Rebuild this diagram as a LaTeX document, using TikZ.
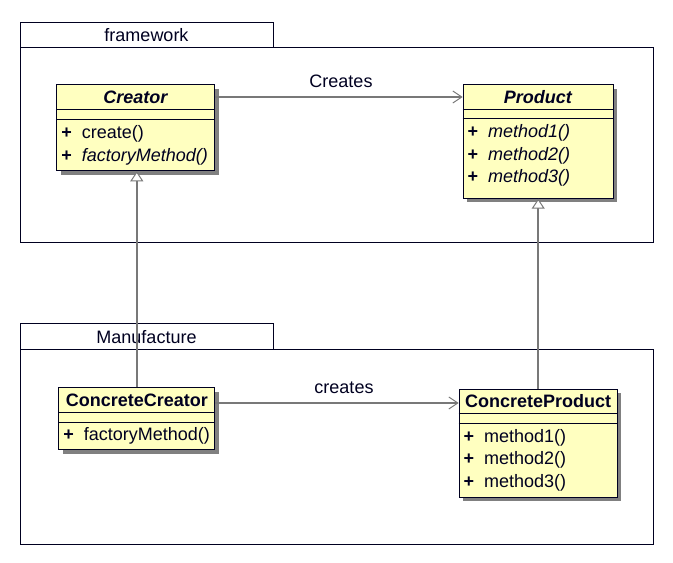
\documentclass[tikz,border=0pt]{standalone}
\usepackage{fontspec}
\setmainfont{Liberation Sans}
\usetikzlibrary{positioning,calc,shadows,arrows.meta}

\definecolor{umlNavy}{RGB}{0,0,32}
\definecolor{umlYellow}{RGB}{255,255,192}
\definecolor{umlShadow}{RGB}{128,128,128}
\definecolor{umlGray}{RGB}{120,120,120}
\newcommand{\umlPlus}{\makebox[20.5pt][l]{\textbf{+}}}

\begin{document}
\begin{tikzpicture}[x=1pt,y=-1pt]
\tikzset{myFont/.style={font=\fontsize{18}{21}\selectfont,text=umlNavy}}
\tikzset{myTitle/.style={font=\fontsize{18}{21}\selectfont\bfseries,text=umlNavy}}
\tikzset{myPkg/.style={draw=umlNavy,line width=1pt,inner sep=0pt,anchor=north west,myFont}}
\tikzset{myClass/.style={draw=umlNavy,fill=umlYellow,line width=1pt,inner sep=0pt,anchor=north west,
  drop shadow={shadow xshift=4pt,shadow yshift=-4pt,opacity=1,fill=umlShadow}}}
\tikzset{myLine/.style={draw=umlNavy,line width=1pt}}
\tikzset{myOp/.style={myFont,anchor=base west,inner sep=0pt}}
\tikzset{myAssoc/.style={draw=umlGray,line width=1.5pt,-{Straight Barb[length=9pt,width=12pt,line width=1pt]}}}
\tikzset{myInherit/.style={draw=umlGray,line width=1.5pt,-{Triangle[open,length=10pt,width=13pt,line width=1pt,fill=white]}}}

\useasboundingbox (0,0) rectangle (673,563);

% packages
\node[myPkg,minimum width=253pt,minimum height=25.6pt] (fwTab) at (19.5,21.7) {framework};
\node[myPkg,minimum width=633pt,minimum height=195pt] (fwBody) at (19.5,47.3) {};
\node[myPkg,minimum width=253pt,minimum height=26pt] (mfTab) at (19.5,323.3) {Manufacture};
\node[myPkg,minimum width=633pt,minimum height=195pt] (mfBody) at (19.5,349.3) {};

% Creator
\node[myClass,minimum width=158pt,minimum height=86pt] (creator) at (56.3,84.3) {};
\node[myTitle] (creatorName) at ($(creator.north)+(0,12.7)$) {\textit{Creator}};
\draw[myLine] ($(creator.north west)+(0,25)$) -- ($(creator.north east)+(0,25)$);
\draw[myLine] ($(creator.north west)+(0,35)$) -- ($(creator.north east)+(0,35)$);
\node[myOp] (creatorOp1) at ($(creator.north west)+(4.8,53.7)$) {\umlPlus create()};
\node[myOp] (creatorOp2) at ($(creator.north west)+(4.8,76.7)$) {\umlPlus\textit{factoryMethod()}};

% Product
\node[myClass,minimum width=150pt,minimum height=113.7pt] (product) at (462.7,84) {};
\node[myTitle] (productName) at ($(product.north)+(0,12.7)$) {\textit{Product}};
\draw[myLine] ($(product.north west)+(0,25)$) -- ($(product.north east)+(0,25)$);
\draw[myLine] ($(product.north west)+(0,34.5)$) -- ($(product.north east)+(0,34.5)$);
\node[myOp] (productOp1) at ($(product.north west)+(4.8,53.7)$) {\umlPlus\textit{method1()}};
\node[myOp] (productOp2) at ($(product.north west)+(4.8,76.2)$) {\umlPlus\textit{method2()}};
\node[myOp] (productOp3) at ($(product.north west)+(4.8,98.7)$) {\umlPlus\textit{method3()}};

% ConcreteCreator
\node[myClass,minimum width=156pt,minimum height=62pt] (ccreator) at (58.3,387.3) {};
\node[myTitle] (ccreatorName) at ($(ccreator.north)+(0,12.7)$) {ConcreteCreator};
\draw[myLine] ($(ccreator.north west)+(0,25.4)$) -- ($(ccreator.north east)+(0,25.4)$);
\draw[myLine] ($(ccreator.north west)+(0,35.4)$) -- ($(ccreator.north east)+(0,35.4)$);
\node[myOp] (ccreatorOp1) at ($(ccreator.north west)+(4.8,53.5)$) {\umlPlus factoryMethod()};

% ConcreteProduct
\node[myClass,minimum width=158pt,minimum height=108pt] (cproduct) at (458.7,388.7) {};
\node[myTitle] (cproductName) at ($(cproduct.north)+(0,12.7)$) {ConcreteProduct};
\draw[myLine] ($(cproduct.north west)+(0,24.6)$) -- ($(cproduct.north east)+(0,24.6)$);
\draw[myLine] ($(cproduct.north west)+(0,34.6)$) -- ($(cproduct.north east)+(0,34.6)$);
\node[myOp] (cproductOp1) at ($(cproduct.north west)+(4.8,53.7)$) {\umlPlus method1()};
\node[myOp] (cproductOp2) at ($(cproduct.north west)+(4.8,76.2)$) {\umlPlus method2()};
\node[myOp] (cproductOp3) at ($(cproduct.north west)+(4.8,98.7)$) {\umlPlus method3()};

% connectors
\path[myAssoc] (creator.east |- creatorName) -- (product.west |- creatorName)
  node[midway,above=5pt,xshift=2pt,myFont] (createsLbl) {Creates};
\path[myAssoc] ($(ccreator.east |- ccreatorName)+(0,3)$) -- ($(cproduct.west |- ccreatorName)+(0,3)$)
  node[midway,above=5pt,xshift=7pt,myFont] (createsLbl2) {creates};
\path[myInherit] (ccreator.north) -- (ccreator.north |- creator.south);
\path[myInherit] (cproduct.north) -- (cproduct.north |- product.south);

\end{tikzpicture}
\end{document}
